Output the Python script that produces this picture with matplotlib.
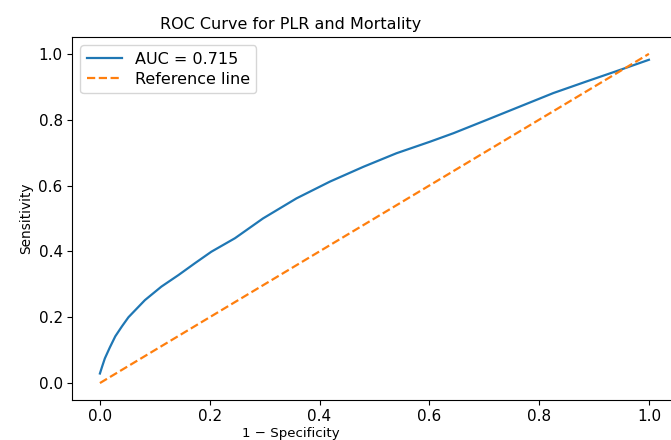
import matplotlib
matplotlib.use("Agg")
import matplotlib.pyplot as plt

# ROC curve points
fpr = [0.0, 0.004, 0.009, 0.018, 0.028, 0.04, 0.052, 0.082, 0.112, 0.143,
       0.173, 0.203, 0.246, 0.297, 0.358, 0.419, 0.48, 0.54, 0.601, 0.644,
       0.704, 0.765, 0.826, 0.886, 0.947, 1.0]
tpr = [0.029, 0.05, 0.075, 0.108, 0.142, 0.172, 0.20, 0.252, 0.293, 0.328,
       0.364, 0.399, 0.44, 0.50, 0.561, 0.612, 0.657, 0.698, 0.733, 0.759,
       0.799, 0.84, 0.881, 0.916, 0.951, 0.982]
ref_x = [0, 1]
ref_y = [0, 1]
auc = 0.715

fig = plt.figure(figsize=(6.71, 4.40), dpi=100)
# axes runs a little past the right edge, as in the cropped reference
ax = fig.add_axes([0.108, 0.092, 0.900, 0.823])

ax.plot(fpr, tpr, color="#1f77b4", lw=1.6, label=f"AUC = {auc}")
ax.plot(ref_x, ref_y, color="#ff7f0e", lw=1.6, linestyle="--", label="Reference line")

# title and x label sit left of the axes centre in the reference
ax.set_title("ROC Curve for PLR and Mortality", fontsize=11.5, x=0.362)
ax.set_xlabel("1 \u2212 Specificity", fontsize=9.6, x=0.362, labelpad=2)
ax.set_ylabel("Sensitivity", fontsize=9.8)
ax.tick_params(labelsize=11)
ax.legend(loc="upper left", fontsize=11.5, labelspacing=0.3, handlelength=2.2,
          borderpad=0.4)

fig.savefig("out.png", dpi=100)
